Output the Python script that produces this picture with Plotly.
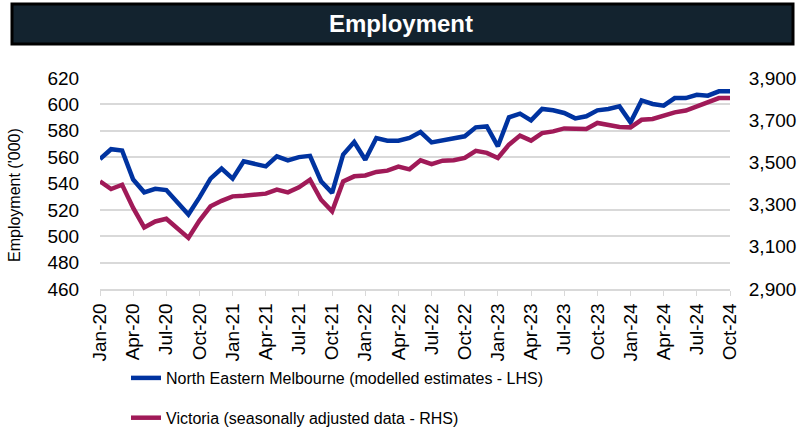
import plotly.graph_objects as go

months = []
for yr in range(20, 25):
    for m in ["Jan", "Feb", "Mar", "Apr", "May", "Jun", "Jul", "Aug", "Sep", "Oct", "Nov", "Dec"]:
        months.append(f"{m}-{yr}")
months = months[:58]  # Jan-20 .. Oct-24

nem = [558.6, 566, 565, 543, 533.3, 536, 535, 525.8, 516.5, 529.5,
       543.7, 551.3, 543.7, 556.8, 554.8, 553, 560.6, 557.6, 560, 561,
       541.7, 532.9, 562, 571.5, 558, 574.5, 572.5, 572.5, 574.5, 579,
       571.2, 572.5, 573.8, 575.8, 582.6, 583.3, 568.2, 590.2, 593, 587.9,
       596.5, 595.5, 593.5, 589.4, 591, 595.5, 596.5, 598.5, 586.4, 603,
       600.3, 599, 604.8, 604.8, 607.3, 606.6, 609.9, 609.9]

vic = [3410, 3374, 3394, 3284, 3192, 3220, 3233, 3189, 3142, 3224,
       3292, 3318, 3339, 3342, 3347, 3352, 3371, 3358, 3382, 3418,
       3323, 3268, 3410, 3434, 3438, 3455, 3461, 3480, 3467, 3510,
       3492, 3508, 3510, 3521, 3555, 3545, 3521, 3584, 3627, 3603,
       3639, 3647, 3661, 3658, 3658, 3687, 3679, 3668, 3666, 3702,
       3706, 3721, 3737, 3746, 3765, 3781, 3805, 3805]

tick_idx = list(range(0, 58, 3))
tick_text = [months[i] for i in tick_idx]
left_ticks = list(range(460, 621, 20))
right_ticks = list(range(2900, 3901, 200))

FONT = "Liberation Sans, Arial, sans-serif"

# plot area in page px: x 100..730, y 78..289 (body margin removed)
PW, PH = 630, 211
def px_x(x):
    return (x - 100) / PW
def px_y(y):
    return (289 - y) / PH

fig = go.Figure()
fig.add_trace(go.Scatter(
    x=list(range(len(nem))), y=nem, mode="lines",
    name="North Eastern Melbourne (modelled estimates - LHS)",
    line=dict(color="#0033A0", width=4.5), legendgroup="a"))
fig.add_trace(go.Scatter(
    x=list(range(len(vic))), y=vic, mode="lines", yaxis="y2",
    name="Victoria (seasonally adjusted data - RHS)",
    line=dict(color="#A01A58", width=4.5), legendgroup="b"))

fig.update_layout(
    width=801, height=430,
    margin=dict(l=100, r=71, t=78, b=141, autoexpand=False),
    paper_bgcolor="white", plot_bgcolor="white",
    font=dict(family=FONT, size=19, color="#000000"),
    showlegend=True,
    legend=dict(x=px_x(126), y=px_y(361), xanchor="left", yanchor="top",
                font=dict(size=16, color="#000000"), tracegroupgap=16,
                bgcolor="rgba(0,0,0,0)"),
    xaxis=dict(range=[0, 57], tickmode="array", tickvals=tick_idx, ticktext=tick_text,
               tickangle=-90, showgrid=False, showline=True, linecolor="#d9d9d9",
               linewidth=1.5, ticks="outside", ticklen=5, tickcolor="#d9d9d9",
               zeroline=False, automargin=False, tickfont=dict(size=19)),
    yaxis=dict(range=[460, 620], tickmode="array", tickvals=left_ticks,
               showgrid=True, gridcolor="#d9d9d9", gridwidth=1.5, zeroline=False,
               ticks="outside", ticklen=16, tickcolor="rgba(0,0,0,0)",
               automargin=False, tickfont=dict(size=19)),
    yaxis2=dict(range=[2900, 3900], tickmode="array", tickvals=right_ticks,
                tickformat=",d", overlaying="y", side="right", showgrid=False,
                zeroline=False, ticks="outside", ticklen=14,
                tickcolor="rgba(0,0,0,0)", automargin=False, tickfont=dict(size=19)),
)

# Y-axis title
fig.add_annotation(xref="paper", yref="paper", x=px_x(14), y=px_y(195),
                   text="Employment ('000)", showarrow=False, textangle=-90,
                   font=dict(family=FONT, size=16, color="black"),
                   xanchor="center", yanchor="middle")

# Title bar
fig.add_shape(type="rect", xref="paper", yref="paper",
              x0=px_x(12), x1=px_x(793), y0=px_y(44), y1=px_y(4),
              fillcolor="#13232F", line=dict(color="#000000", width=3), layer="above")
fig.add_annotation(xref="paper", yref="paper", x=px_x(401), y=px_y(23),
                   text="<b>Employment</b>", showarrow=False,
                   font=dict(family=FONT, size=24, color="white"),
                   xanchor="center", yanchor="middle")

fig.write_html("out.html", config={"displayModeBar": False},
               post_script="document.body.style.margin='0';document.body.style.overflow='hidden';")
